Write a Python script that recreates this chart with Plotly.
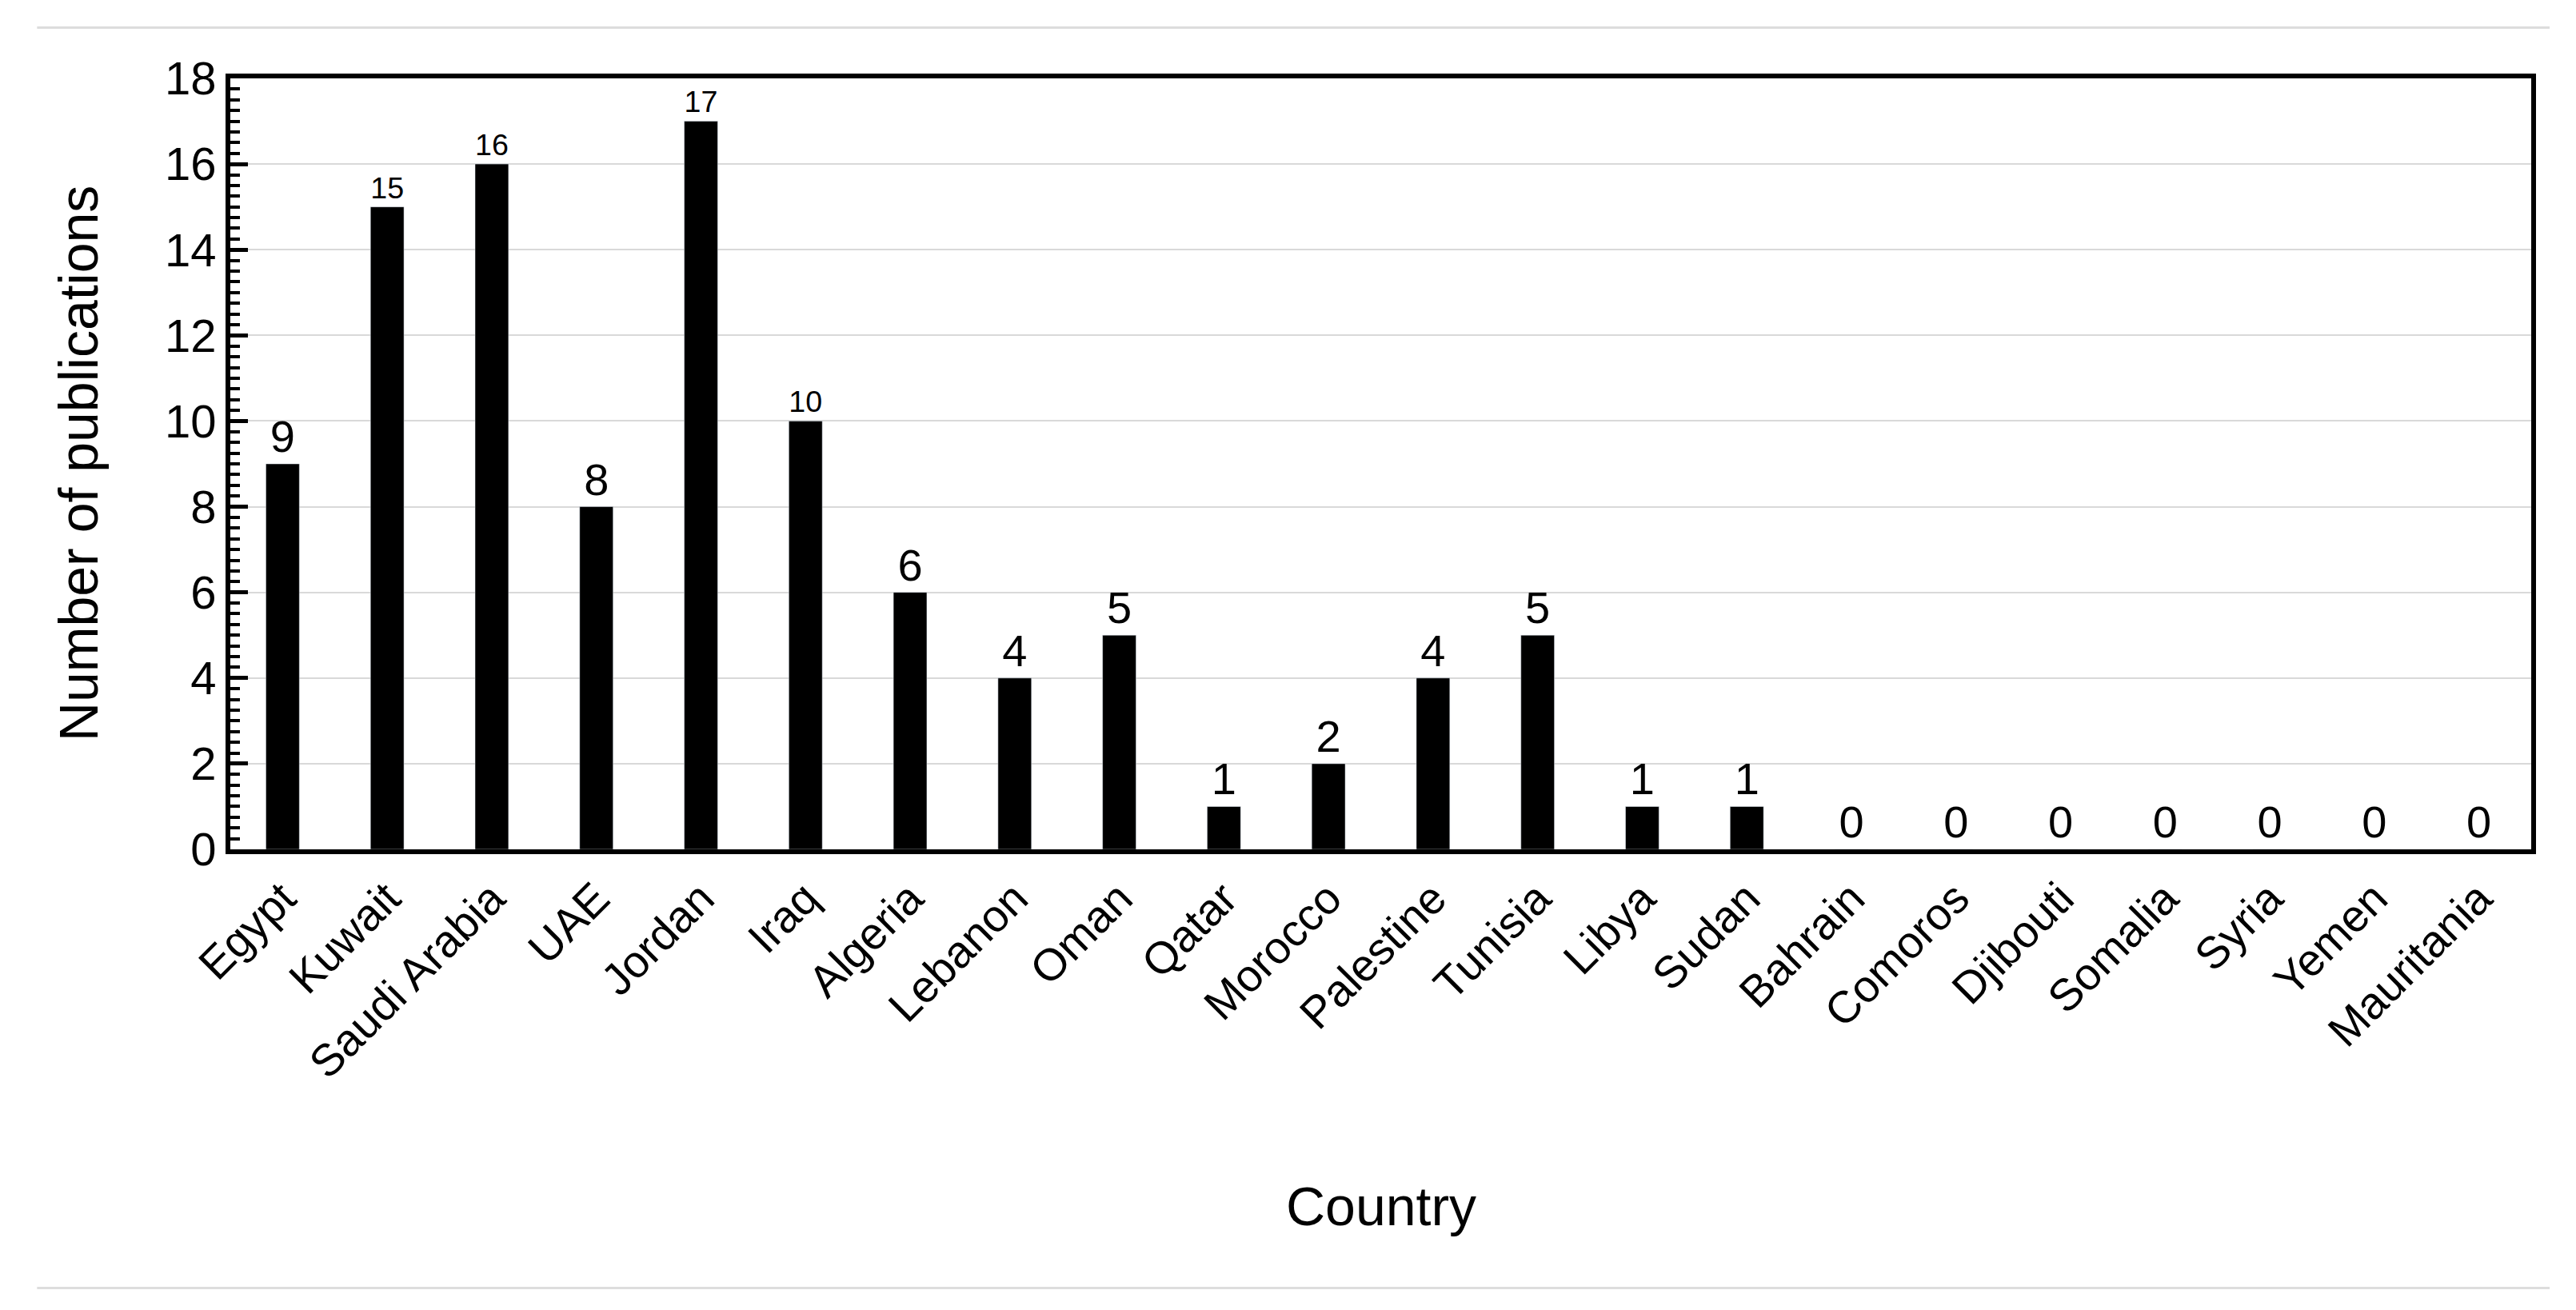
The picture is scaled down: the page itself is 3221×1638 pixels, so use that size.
import plotly.graph_objects as go

countries = ["Egypt","Kuwait","Saudi Arabia","UAE","Jordan","Iraq","Algeria","Lebanon","Oman","Qatar",
             "Morocco","Palestine","Tunisia","Libya","Sudan","Bahrain","Comoros","Djibouti","Somalia",
             "Syria","Yemen","Mauritania"]
publications = [9,15,16,8,17,10,6,4,5,1,2,4,5,1,1,0,0,0,0,0,0,0]
y_ticks = list(range(0, 19, 2))

F = "Liberation Sans, Arial, sans-serif"
fig = go.Figure(go.Bar(
    x=countries, y=publications, width=0.32, marker_color="black",
    text=[str(v) for v in publications], textposition="outside", cliponaxis=False,
    textfont=dict(family=F, size=56, color="black")))

fig.update_layout(
    width=3221, height=1638, paper_bgcolor="white", plot_bgcolor="white",
    margin=dict(l=280, r=64, t=90, b=584), showlegend=False,
    font=dict(family=F, color="black"),
    xaxis=dict(showline=True, linewidth=6, linecolor="black", mirror=True, tickangle=-45,
               tickfont=dict(size=56, family=F), ticks=""),
    yaxis=dict(range=[0, 18], tickvals=y_ticks, showline=True, linewidth=6, linecolor="black",
               mirror=True, showgrid=True, gridcolor="#d9d9d9", gridwidth=2,
               ticks="inside", ticklen=22, tickwidth=5, tickcolor="black",
               tickfont=dict(size=58, family=F), zeroline=False,
               minor=dict(dtick=0.25, ticks="inside", ticklen=12, tickwidth=4, tickcolor="black", showgrid=False)),
)
fig.add_annotation(text="Country", xref="paper", yref="paper", x=0.5, y=-0.463, showarrow=False,
                   font=dict(size=68, family=F), yanchor="middle")
fig.add_annotation(text="Number of publications", xref="paper", yref="paper", x=-0.066, y=0.5,
                   textangle=-90, showarrow=False, font=dict(size=68, family=F), xanchor="center")
for yy in (1.066, -0.569):
    fig.add_shape(type="line", xref="paper", yref="paper", x0=-0.084, x1=1.008, y0=yy, y1=yy,
                  line=dict(color="#dddddd", width=3))
fig.write_html("out.html")
